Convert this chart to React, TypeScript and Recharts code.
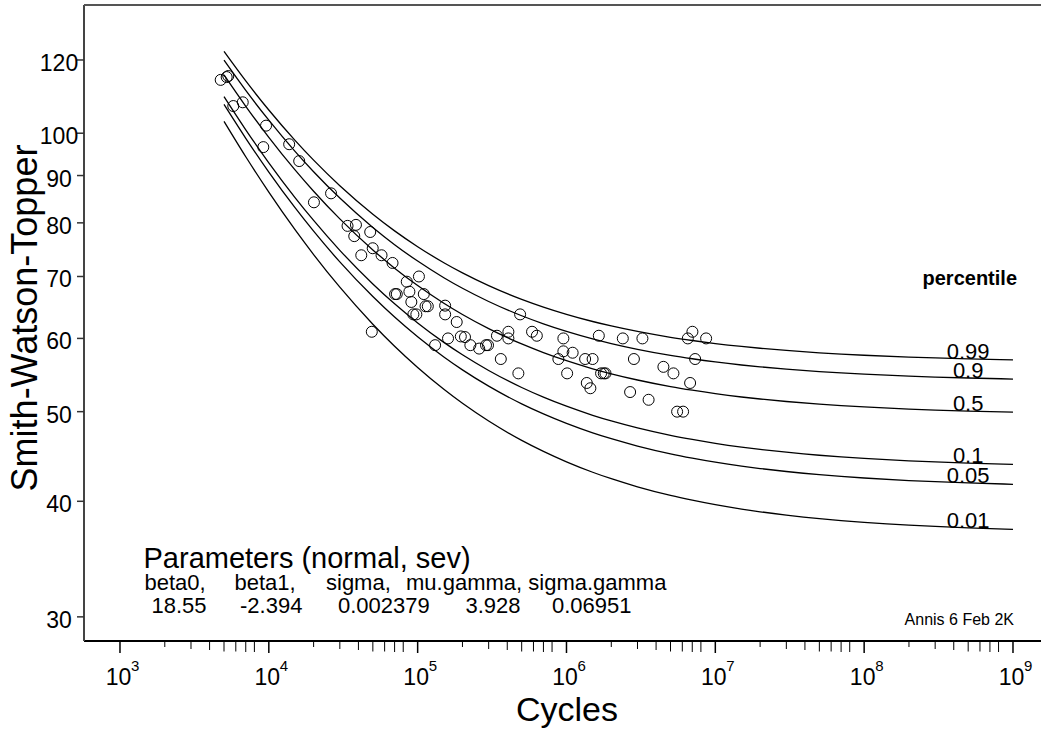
import React from 'react';
import { ComposedChart, XAxis, YAxis, Line, Scatter } from 'recharts';

const FONT = '"Liberation Sans", Arial, Helvetica, sans-serif';

// Percentile curves: cycles vs Smith-Watson-Topper
const cycles = [5e3, 7e3, 1e4, 1.5e4, 2e4, 3e4, 5e4, 7e4, 1e5, 1.5e5, 2e5, 3e5, 5e5, 7e5, 1e6, 1.5e6, 2e6, 3e6, 5e6, 7e6, 1e7, 1.5e7, 2e7, 3e7, 5e7, 7e7, 1e8, 2e8, 3e8, 5e8, 1e9];
const p99 = [122.57, 113.89, 105.94, 98.23, 93.51, 87.74, 81.74, 78.42, 75.39, 72.44, 70.63, 68.43, 66.13, 64.87, 63.71, 62.58, 61.89, 61.05, 60.17, 59.69, 59.24, 58.81, 58.55, 58.23, 57.89, 57.71, 57.54, 57.27, 57.15, 57.02, 56.88];
const p90 = [119.92, 111.24, 103.29, 95.58, 90.86, 85.09, 79.09, 75.77, 72.74, 69.79, 67.98, 65.78, 63.48, 62.22, 61.06, 59.93, 59.24, 58.40, 57.52, 57.04, 56.59, 56.16, 55.90, 55.58, 55.24, 55.06, 54.89, 54.62, 54.50, 54.37, 54.23];
const p50 = [115.62, 106.94, 98.99, 91.28, 86.56, 80.79, 74.79, 71.47, 68.44, 65.49, 63.68, 61.48, 59.18, 57.92, 56.76, 55.63, 54.94, 54.10, 53.22, 52.74, 52.29, 51.86, 51.60, 51.28, 50.94, 50.76, 50.59, 50.32, 50.20, 50.07, 49.93];
const p10 = [109.54, 100.86, 92.91, 85.20, 80.48, 74.71, 68.71, 65.39, 62.36, 59.41, 57.60, 55.40, 53.10, 51.84, 50.68, 49.55, 48.86, 48.02, 47.14, 46.66, 46.21, 45.78, 45.52, 45.20, 44.86, 44.68, 44.51, 44.24, 44.12, 43.99, 43.85];
const p05 = [107.42, 98.74, 90.79, 83.08, 78.36, 72.59, 66.59, 63.27, 60.24, 57.29, 55.48, 53.28, 50.98, 49.72, 48.56, 47.43, 46.74, 45.90, 45.02, 44.54, 44.09, 43.66, 43.40, 43.08, 42.74, 42.56, 42.39, 42.12, 42.00, 41.87, 41.73];
const p01 = [102.99, 94.31, 86.36, 78.65, 73.93, 68.16, 62.16, 58.84, 55.81, 52.86, 51.05, 48.85, 46.55, 45.29, 44.13, 43.00, 42.31, 41.47, 40.59, 40.11, 39.66, 39.23, 38.97, 38.65, 38.31, 38.13, 37.96, 37.69, 37.57, 37.44, 37.30];
const percentileLabels = ['0.99', '0.9', '0.5', '0.1', '0.05', '0.01'];
const LABEL_AT = 5e8;

// Observations
const obsCycles = [
  4750, 5210, 5340, 5770, 6680, 9580, 9180, 13700, 16000, 20100,
  26200, 33800, 38500, 37500, 48000, 41800, 49900, 57200, 67800, 102000,
  84500, 70500, 72400, 88000, 110000, 90700, 113000, 117000, 93600, 98000,
  153000, 153000, 183000, 49200, 131000, 160000, 195000, 208000, 226000, 259000,
  288000, 297000, 341000, 407000, 407000, 362000, 488000, 475000, 587000, 632000,
  953000, 953000, 1100000, 882000, 1010000, 1334000, 1498000, 1649000, 1708000, 1781000,
  1829000, 1369000, 1447000, 2390000, 2838000, 3237000, 2676000, 3562000, 4479000, 5230000,
  6770000, 5538000, 6075000, 7016000, 6535000, 8674000, 7316000,
];
const obsSWT = [
  114.2, 115.0, 115.3, 107.0, 108.0, 101.9, 96.6, 97.3, 93.3, 84.2,
  86.1, 79.4, 79.6, 77.4, 78.2, 73.8, 75.1, 73.8, 72.4, 70.0,
  69.1, 67.0, 67.0, 67.4, 67.0, 65.7, 65.0, 65.0, 63.7, 63.7,
  65.1, 63.7, 62.5, 61.0, 59.0, 60.0, 60.3, 60.2, 59.0, 58.5,
  59.0, 59.0, 60.4, 61.0, 60.0, 57.0, 63.7, 55.0, 61.0, 60.4,
  60.0, 58.1, 57.9, 57.0, 55.0, 57.0, 57.0, 60.4, 55.0, 55.0,
  55.0, 53.7, 53.0, 60.0, 57.0, 60.0, 52.5, 51.5, 55.9, 55.0,
  53.7, 50.0, 50.0, 61.0, 60.0, 60.0, 57.0,
];

const xMajorTicks = [1e3, 1e4, 1e5, 1e6, 1e7, 1e8, 1e9];
const xMinorMultipliers = [2, 3, 4, 5, 6, 7, 8];
const yTicks = [30, 40, 50, 60, 70, 80, 90, 100, 120];
const xDomain = [573.1, 1.5425e9];
const yDomain = [28.25, 137.6];

const series = [p99, p90, p50, p10, p05, p01];
const seriesKeys = ['p99', 'p90', 'p50', 'p10', 'p05', 'p01'];

const curveRows = cycles.map((n, i) => {
  const row: any = { n };
  seriesKeys.forEach((k, j) => { row[k] = series[j][i]; });
  return row;
});
const obsRows = obsCycles.map((n, i) => ({ n, s: obsSWT[i] }));
const labelIdx = cycles.indexOf(LABEL_AT);
const labelRows = percentileLabels.map((t, j) => ({ n: cycles[labelIdx], s: series[j][labelIdx], label: t }));

const xTicks: number[] = [];
xMajorTicks.forEach((m, i) => {
  xTicks.push(m);
  if (i < xMajorTicks.length - 1) xMinorMultipliers.forEach((k) => xTicks.push(k * m));
});

const minorLen: Record<number, number> = { 2: 6, 3: 8, 4: 9, 5: 10.5, 6: 10.5, 7: 11, 8: 11 };

const XTick = (props: any) => {
  const { x, y, payload } = props;
  const v = payload.value;
  const e = Math.floor(Math.log10(v) + 1e-9);
  const mult = Math.round(v / Math.pow(10, e));
  if (mult === 1) {
    return (
      <g>
        <line x1={x} y1={y} x2={x} y2={y + 12} stroke="#000" strokeWidth={1.5} />
        <text x={x - 1.5} y={y + 44} textAnchor="middle" fontSize={23} fontFamily={FONT} fill="#000">10</text>
        <text x={x + 11} y={y + 30} fontSize={15} fontFamily={FONT} fill="#000">{e}</text>
      </g>
    );
  }
  return <line x1={x} y1={y} x2={x} y2={y + (minorLen[mult] || 8)} stroke="#000" strokeWidth={1} />;
};

const YTick = (props: any) => {
  const { y, payload } = props;
  return (
    <text x={59} y={y + 11} textAnchor="middle" fontSize={23} fontFamily={FONT} fill="#000">{payload.value}</text>
  );
};

const Circle = (props: any) => {
  const { cx, cy } = props;
  if (cx == null || cy == null) return null;
  return <circle cx={cx} cy={cy} r={5.5} fill="none" stroke="#000" strokeWidth={1} />;
};

const CurveLabel = (props: any) => {
  const { cx, cy, payload } = props;
  if (cx == null || cy == null) return null;
  return (
    <text x={cx} y={cy} textAnchor="middle" fontSize={22} fontFamily={FONT} fill="#000">{payload.label}</text>
  );
};

export default function App() {
  return (
    <div style={{ position: 'absolute', left: 0, top: 0, width: 1041, height: 731, background: '#fff' }}>
      <ComposedChart width={1041} height={731} data={curveRows} margin={{ top: 5, right: 0, bottom: 0, left: 0 }}>
        <XAxis
          dataKey="n"
          type="number"
          scale="log"
          domain={xDomain}
          allowDataOverflow
          ticks={xTicks}
          interval={0}
          height={90}
          tickSize={0}
          tickMargin={0}
          tickLine={false}
          axisLine={{ stroke: '#000', strokeWidth: 2 }}
          tick={<XTick />}
        />
        <YAxis
          type="number"
          scale="log"
          domain={yDomain}
          allowDataOverflow
          ticks={yTicks}
          interval={0}
          width={84}
          tickSize={7}
          tickMargin={1}
          tickLine={{ stroke: '#333', strokeWidth: 1.5 }}
          axisLine={{ stroke: '#444', strokeWidth: 2 }}
          tick={<YTick />}
        />
        {seriesKeys.map((k) => (
          <Line key={k} dataKey={k} type="monotone" stroke="#000" strokeWidth={1.3} dot={false} isAnimationActive={false} />
        ))}
        <Scatter data={obsRows} dataKey="s" shape={<Circle />} isAnimationActive={false} />
        <Scatter data={labelRows} dataKey="s" shape={<CurveLabel />} isAnimationActive={false} />
      </ComposedChart>
      <svg width={1041} height={731} style={{ position: 'absolute', left: 0, top: 0, pointerEvents: 'none' }}>
        <line x1={84} y1={5} x2={1041} y2={5} stroke="#555" strokeWidth={2} />
        <text x={37} y={318} transform="rotate(-90 37 318)" textAnchor="middle" fontSize={36} fontFamily={FONT} fill="#000">Smith-Watson-Topper</text>
        <text x={567} y={721} textAnchor="middle" fontSize={34} fontFamily={FONT} fill="#000">Cycles</text>
        <text x={1017} y={285} textAnchor="end" fontSize={20} fontWeight="bold" fontFamily={FONT} fill="#000">percentile</text>
        <text x={143.5} y={568} fontSize={29} fontFamily={FONT} fill="#000">Parameters (normal, sev)</text>
        <text x={144.5} y={590} fontSize={22} fontFamily={FONT} fill="#000">beta0,</text>
        <text x={234.5} y={590} fontSize={22} fontFamily={FONT} fill="#000">beta1,</text>
        <text x={326} y={590} fontSize={22} fontFamily={FONT} fill="#000">sigma,</text>
        <text x={406} y={590} fontSize={22} fontFamily={FONT} fill="#000">mu.gamma, sigma.gamma</text>
        <text x={151.5} y={613} fontSize={22} fontFamily={FONT} fill="#000">18.55</text>
        <text x={240} y={613} fontSize={22} fontFamily={FONT} fill="#000">-2.394</text>
        <text x={338} y={613} fontSize={22} fontFamily={FONT} fill="#000">0.002379</text>
        <text x={465.5} y={613} fontSize={22} fontFamily={FONT} fill="#000">3.928</text>
        <text x={552} y={613} fontSize={22} fontFamily={FONT} fill="#000">0.06951</text>
        <text x={1014} y={625} textAnchor="end" fontSize={16} fontFamily={FONT} fill="#000">Annis 6 Feb 2K</text>
      </svg>
    </div>
  );
}
